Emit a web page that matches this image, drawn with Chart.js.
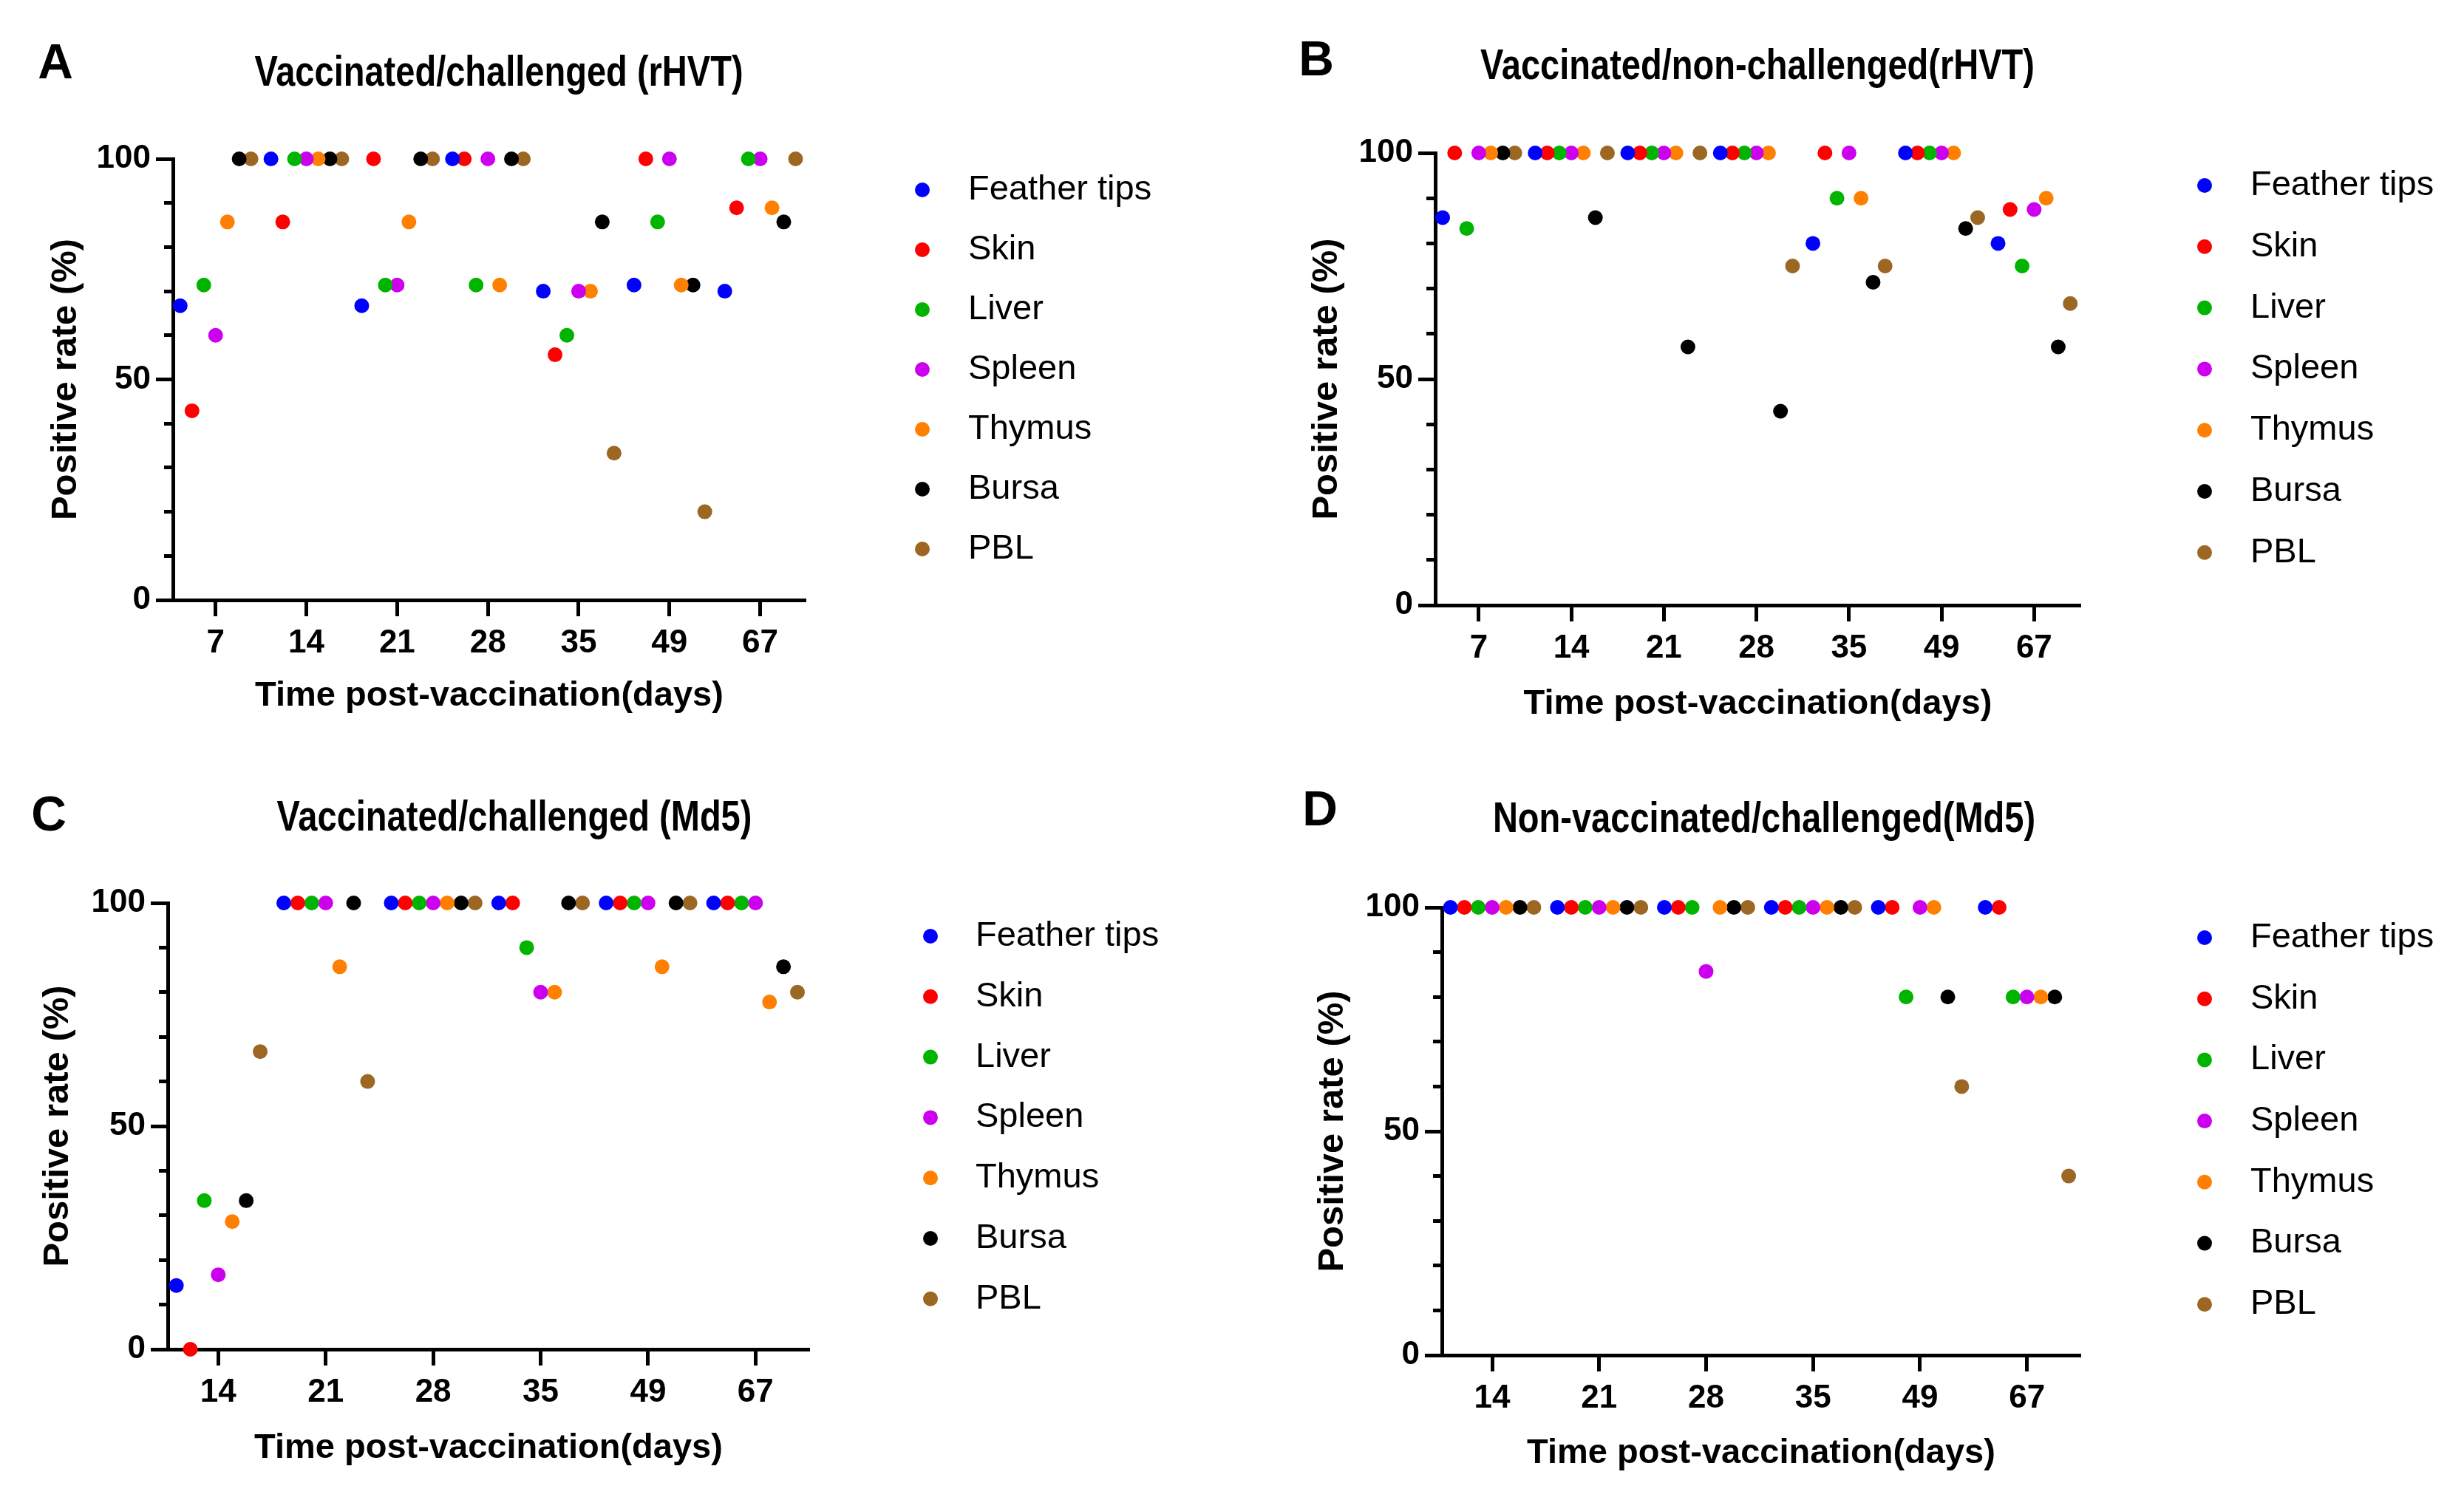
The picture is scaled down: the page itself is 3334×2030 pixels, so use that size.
<!DOCTYPE html>
<html>
<head>
<meta charset="utf-8">
<script src="https://cdn.jsdelivr.net/npm/chart.js@4.4.1/dist/chart.umd.min.js"></script>
<style>
html, body { margin: 0; padding: 0; background: #fff; }
#wrap { position: relative; width: 3334px; height: 2030px; }
.panel { position: absolute; width: 1667px; height: 1015px; }
</style>
</head>
<body>
<div id="wrap">
    <div class="panel" style="left:0;top:0"><canvas id="chartA" width="1667" height="1015"></canvas></div>
    <div class="panel" style="left:1667px;top:0"><canvas id="chartB" width="1667" height="1015"></canvas></div>
    <div class="panel" style="left:0;top:1015px"><canvas id="chartC" width="1667" height="1015"></canvas></div>
    <div class="panel" style="left:1667px;top:1015px"><canvas id="chartD" width="1667" height="1015"></canvas></div>
</div>
<script>
const tissues = ['Feather tips', 'Skin', 'Liver', 'Spleen', 'Thymus', 'Bursa', 'PBL'];
const daysAB = ['7', '14', '21', '28', '35', '49', '67'];
const daysCD = ['14', '21', '28', '35', '49', '67'];
const yTicks = [0, 50, 100];

// one row per tissue, one value per day
const rateA = [
    [66.7, 100, 66.7, 100, 70, 71.4, 70],
    [42.9, 85.7, 100, 100, 55.6, 100, 88.9],
    [71.4, 100, 71.4, 71.4, 60, 85.7, 100],
    [60, 100, 71.4, 100, 70, 100, 100],
    [85.7, 100, 85.7, 71.4, 70, 71.4, 88.9],
    [100, 100, 100, 100, 85.7, 71.4, 85.7],
    [100, 100, 100, 100, 33.3, 20, 100]
];
const rateB = [
    [85.7, 100, 100, 100, 80, 100, 80],
    [100, 100, 100, 100, 100, 100, 87.5],
    [83.3, 100, 100, 100, 90, 100, 75],
    [100, 100, 100, 100, 100, 100, 87.5],
    [100, 100, 100, 100, 90, 100, 90],
    [100, 85.7, 57.1, 42.9, 71.4, 83.3, 57.1],
    [100, 100, 100, 75, 75, 85.7, 66.7]
];
const rateC = [
    [14.3, 100, 100, 100, 100, 100],
    [0, 100, 100, 100, 100, 100],
    [33.3, 100, 100, 90, 100, 100],
    [16.7, 100, 100, 80, 100, 100],
    [28.6, 85.7, 100, 80, 85.7, 77.8],
    [33.3, 100, 100, 100, 100, 85.7],
    [66.7, 60, 100, 100, 100, 80]
];
const rateD = [
    [100, 100, 100, 100, 100, 100],
    [100, 100, 100, 100, 100, 100],
    [100, 100, 100, 100, 80, 80],
    [100, 100, 85.7, 100, 100, 80],
    [100, 100, 100, 100, 100, 80],
    [100, 100, 100, 100, 80, 80],
    [100, 100, 100, 100, 60, 40]
];

const colors = ['#0000ff', '#ff0000', '#00b400', '#cc00ee', '#ff8000', '#000000', '#9c6623'];
const DODGE = 0.13;
const SANS = "'Liberation Sans', Arial, sans-serif";

// titles, panel letter and legend
const panelDeco = {
    id: 'panelDeco',
    afterDraw(chart, args, o) {
        const ctx = chart.ctx;
        ctx.save();
        ctx.fillStyle = '#000';
        ctx.textBaseline = 'middle';
        ctx.textAlign = 'center';
        ctx.font = 'bold 66px ' + SANS;
        ctx.fillText(o.letter, o.letterX, o.letterY);

        // the panel titles are set in a condensed bold face
        ctx.save();
        ctx.translate(o.titleX, o.titleY);
        ctx.scale(0.825, 1);
        ctx.font = 'bold 57px ' + SANS;
        ctx.fillText(o.title, 0, 0);
        ctx.restore();

        ctx.textAlign = 'left';
        ctx.font = '47px ' + SANS;
        chart.data.datasets.forEach((ds, k) => {
            const y = o.legY + k * o.legStep;
            ctx.fillStyle = ds.backgroundColor;
            ctx.beginPath();
            ctx.arc(o.legX, y, 10, 0, Math.PI * 2);
            ctx.fill();
            ctx.fillStyle = '#000';
            ctx.fillText(ds.label, o.textX, y);
        });
        ctx.restore();
    }
};

function makeChart(id, days, rates, opt) {
    const tickFont = { family: SANS, size: 44, weight: 'bold' };
    const datasets = tissues.map((name, k) => ({
        label: name,
        data: days.map((d, i) => ({ x: i + 1 + (k - 3) * DODGE, y: rates[k][i] })),
        backgroundColor: colors[k],
        borderWidth: 0,
        pointRadius: 10,
        pointHoverRadius: 10,
        clip: false
    }));

    return new Chart(document.getElementById(id), {
        type: 'scatter',
        data: { datasets: datasets },
        plugins: [panelDeco],
        options: {
            responsive: false,
            animation: false,
            layout: { padding: opt.pad },
            plugins: {
                legend: { display: false },
                tooltip: { enabled: false },
                panelDeco: opt.deco
            },
            scales: {
                x: {
                    type: 'linear',
                    min: 0.53,
                    max: days.length + 0.5,
                    afterBuildTicks: s => { s.ticks = days.map((d, i) => ({ value: i + 1 })); },
                    afterFit: s => { s.height = opt.xH; },
                    ticks: {
                        callback: v => days[Math.round(v) - 1],
                        font: tickFont,
                        color: '#000',
                        padding: 10,
                        maxRotation: 0,
                        autoSkip: false
                    },
                    grid: { drawOnChartArea: false, tickLength: 22, tickWidth: 5, tickColor: '#000' },
                    border: { color: '#000', width: 5 },
                    title: {
                        display: true,
                        text: 'Time post-vaccination(days)',
                        color: '#000',
                        padding: 0,
                        font: { family: SANS, size: 47, weight: 'bold', lineHeight: 1 }
                    }
                },
                y: {
                    type: 'linear',
                    position: 'left',
                    weight: 1,
                    min: 0,
                    max: 100,
                    afterBuildTicks: s => { s.ticks = yTicks.map(v => ({ value: v })); },
                    afterFit: s => { s.width = opt.yW; },
                    ticks: { font: tickFont, color: '#000', padding: 7 },
                    grid: { drawOnChartArea: false, tickLength: 23, tickWidth: 5, tickColor: '#000' },
                    border: { color: '#000', width: 5 },
                    title: {
                        display: true,
                        text: 'Positive rate (%)',
                        color: '#000',
                        padding: 0,
                        font: { family: SANS, size: 49, weight: 'bold', lineHeight: 1 }
                    }
                },
                // short minor ticks every 10 %
                yMinor: {
                    type: 'linear',
                    position: 'left',
                    weight: 0,
                    min: 0,
                    max: 100,
                    afterFit: s => { s.width = 0; },
                    ticks: { display: false, stepSize: 10 },
                    grid: { drawOnChartArea: false, tickLength: 12, tickWidth: 5, tickColor: '#000' },
                    border: { display: false }
                }
            }
        }
    });
}

makeChart('chartA', daysAB, rateA, {
    pad: { left: 64.5, top: 215, right: 577, bottom: 49.5 }, yW: 169.5, xH: 153.5,
    deco: { letter: 'A', letterX: 75, letterY: 88, title: 'Vaccinated/challenged (rHVT)', titleX: 675, titleY: 100,
            legX: 1248, textX: 1310, legY: 257, legStep: 81 }
});
makeChart('chartB', daysAB, rateB, {
    pad: { left: 103.5, top: 207, right: 519, bottom: 38.5 }, yW: 171.5, xH: 157.5,
    deco: { letter: 'B', letterX: 114, letterY: 84, title: 'Vaccinated/non-challenged(rHVT)', titleX: 711, titleY: 91,
            legX: 1316, textX: 1378, legY: 251, legStep: 82.8 }
});
makeChart('chartC', daysCD, rateC, {
    pad: { left: 53.5, top: 207, right: 572, bottom: 46.5 }, yW: 173.5, xH: 157.5,
    deco: { letter: 'C', letterX: 66, letterY: 91, title: 'Vaccinated/challenged (Md5)', titleX: 696, titleY: 93,
            legX: 1259, textX: 1320, legY: 252, legStep: 81.8 }
});
makeChart('chartD', daysCD, rateD, {
    pad: { left: 111.5, top: 213, right: 519, bottom: 39.5 }, yW: 172.5, xH: 156.5,
    deco: { letter: 'D', letterX: 119, letterY: 84, title: 'Non-vaccinated/challenged(Md5)', titleX: 720, titleY: 95,
            legX: 1316, textX: 1378, legY: 254, legStep: 82.7 }
});
</script>
</body>
</html>
